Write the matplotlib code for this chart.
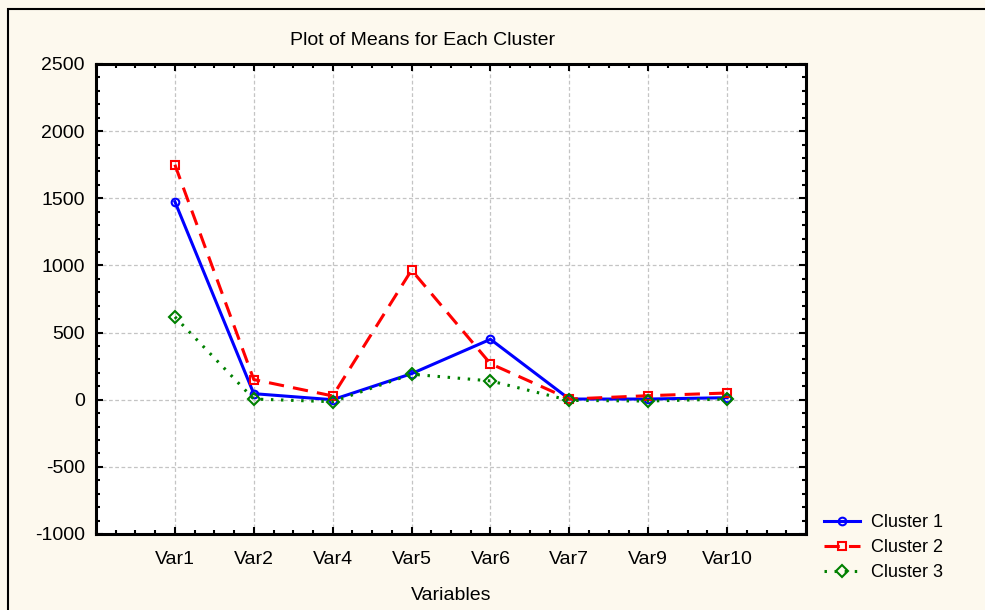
import numpy as np
import matplotlib
matplotlib.use('agg')
import matplotlib.pyplot as plt
from matplotlib.patches import Rectangle
from matplotlib.ticker import MultipleLocator

variables = ['Var1', 'Var2', 'Var4', 'Var5', 'Var6', 'Var7', 'Var9', 'Var10']
cluster1 = [1475, 45, 0, 194, 450, 5, 5, 15]
cluster2 = [1750, 150, 28, 965, 268, 5, 30, 50]
cluster3 = [617, 5, -15, 190, 140, -5, -10, 5]

plt.rcParams['font.family'] = ['Liberation Sans', 'DejaVu Sans']
plt.rcParams['axes.unicode_minus'] = False

bg = '#fdf9ee'
fig = plt.figure(figsize=(9.85, 6.1), dpi=100, facecolor=bg)
ax = fig.add_axes([96/985, 1-534/610, (806-96)/985, (534-64)/610])
ax.set_facecolor('white')

x = np.arange(1, len(variables)+1)
ax.plot(x, cluster1, color='#0000ff', lw=2.2, ls='-', marker='o', ms=5.5,
        mfc='none', mec='#0000ff', mew=1.5, label='Cluster 1')
ax.plot(x, cluster2, color='#ff0000', lw=2.2, ls=(0, (5, 3)), marker='s', ms=5.5,
        mfc='none', mec='#ff0000', mew=1.5, label='Cluster 2')
ax.plot(x, cluster3, color='#008000', lw=2.2, ls=(0, (0.8, 2.5)), marker='D', ms=6.5,
        mfc='none', mec='#008000', mew=1.5, label='Cluster 3')

ax.set_xlim(0, len(variables)+1)
ax.set_ylim(-1000, 2500)
ax.set_xticks(x)
ax.set_xticklabels(variables)
ax.xaxis.set_minor_locator(MultipleLocator(0.25))
ax.yaxis.set_major_locator(MultipleLocator(500))
ax.yaxis.set_minor_locator(MultipleLocator(100))
ax.tick_params(which='both', direction='in', top=True, right=True, color='black',
               labelsize=14, pad=8)
ax.tick_params(which='major', length=5, width=1.5)
ax.tick_params(which='minor', length=3, width=1.5)
ax.tick_params(axis='x', which='both', pad=12)
for s in ax.spines.values():
    s.set_linewidth(2.2)
    s.set_color('black')
ax.grid(True, which='major', color='#c4c4c4', ls=(0, (3, 2)), lw=0.9)
ax.set_axisbelow(True)

ax.set_title('Plot of Means for Each Cluster', fontsize=14, pad=14, x=0.46)
ax.set_xlabel('Variables', fontsize=14, labelpad=14)

ax.legend(loc='upper left', bbox_to_anchor=(1.015, 0.058), frameon=False,
          fontsize=13, handlelength=2.0, handletextpad=0.6, labelspacing=0.45,
          borderaxespad=0)

fig.add_artist(Rectangle((8/985, -0.1), 1.0, 1.1-9/610, transform=fig.transFigure,
                         fill=False, lw=1.5, edgecolor='black'))

fig.savefig('out.png', dpi=100, facecolor=bg)
